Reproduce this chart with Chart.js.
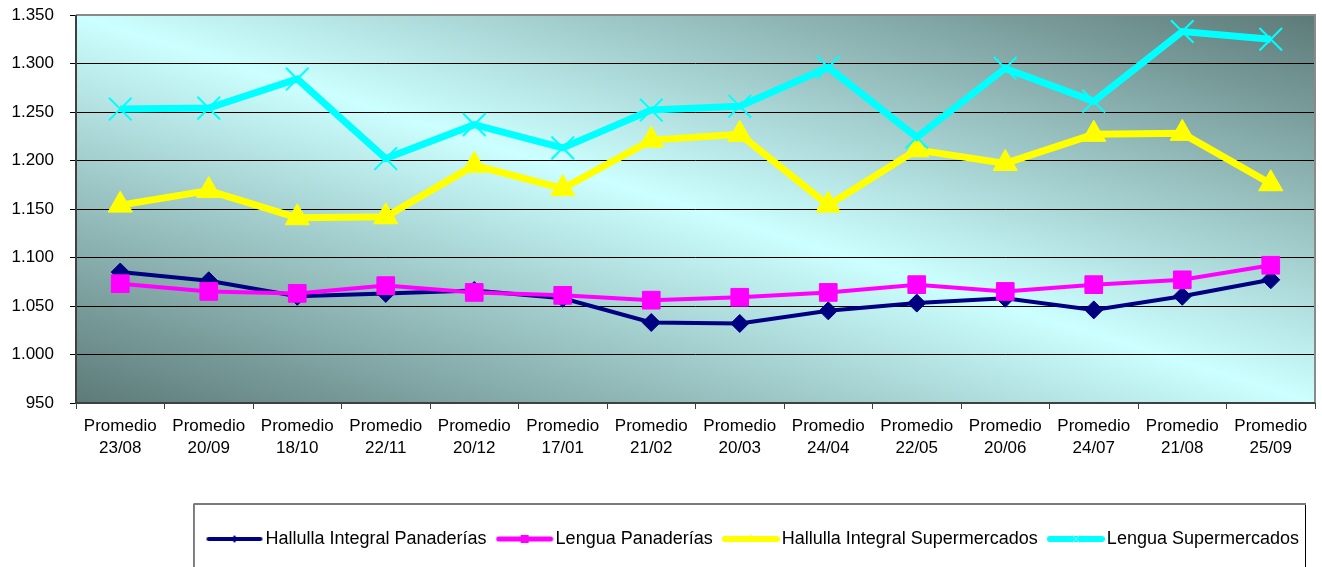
<!DOCTYPE html>
<html>
<head>
<meta charset="utf-8">
<script src="https://cdn.jsdelivr.net/npm/chart.js@4/dist/chart.umd.min.js"></script>
<style>
  html, body { margin: 0; padding: 0; background: #fff; }
  #wrap { width: 1322px; height: 567px; }
</style>
</head>
<body>
<div id="wrap"><canvas id="chartCanvas"></canvas></div>
<script>
        const categories = [
            ["Promedio", "23/08"], ["Promedio", "20/09"], ["Promedio", "18/10"], ["Promedio", "22/11"],
            ["Promedio", "20/12"], ["Promedio", "17/01"], ["Promedio", "21/02"], ["Promedio", "20/03"],
            ["Promedio", "24/04"], ["Promedio", "22/05"], ["Promedio", "20/06"], ["Promedio", "24/07"],
            ["Promedio", "21/08"], ["Promedio", "25/09"]
        ];

        const hallullaPanaderias = [1085, 1076, 1060, 1063, 1066, 1058, 1033, 1032, 1045, 1053, 1058, 1046, 1060, 1077];
        const lenguaPanaderias = [1073, 1065, 1063, 1071, 1064, 1061, 1056, 1059, 1064, 1072, 1065, 1072, 1077, 1092];
        const hallullaSupermercados = [1154, 1169, 1141, 1142, 1195, 1171, 1221, 1227, 1154, 1211, 1197, 1227, 1228, 1176];
        const lenguaSupermercados = [1253, 1254, 1284, 1202, 1237, 1213, 1252, 1256, 1296, 1224, 1295, 1261, 1333, 1325];

        const seriesNames = [
            "Hallulla Integral Panaderías", "Lengua Panaderías",
            "Hallulla Integral Supermercados", "Lengua Supermercados"
        ];
        const yTicks = [950, 1000, 1050, 1100, 1150, 1200, 1250, 1300, 1350];

        const FONT = "'Liberation Sans', Arial, sans-serif";

        // little legend samples: line + small marker
        function legendIcon(color, lineW, shape) {
            const c = document.createElement("canvas");
            c.width = 58; c.height = 16;
            const g = c.getContext("2d");
            g.strokeStyle = color;
            g.lineWidth = lineW;
            g.lineCap = "round";
            g.beginPath(); g.moveTo(3, 8); g.lineTo(55, 8); g.stroke();
            g.fillStyle = color;
            g.beginPath();
            if (shape === "diamond") {
                g.moveTo(29, 4); g.lineTo(32, 8); g.lineTo(29, 12); g.lineTo(26, 8); g.closePath(); g.fill();
            } else if (shape === "square") {
                g.rect(25, 4, 8, 8); g.fill();
            } else if (shape === "triangle") {
                g.moveTo(29, 3); g.lineTo(33, 11); g.lineTo(25, 11); g.closePath(); g.fill();
            } else {
                g.strokeStyle = "#7fffff"; g.lineWidth = 1;
                g.moveTo(25, 4); g.lineTo(33, 12); g.moveTo(33, 4); g.lineTo(25, 12); g.stroke();
            }
            return c;
        }
        const icons = [
            legendIcon("#000080", 4, "diamond"),
            legendIcon("#FF00FF", 5, "square"),
            legendIcon("#FFFF00", 6, "triangle"),
            legendIcon("#00FFFF", 6, "cross")
        ];

        const plotBackground = {
            id: "plotBackground",
            beforeDraw(chart) {
                const { ctx, chartArea: a } = chart;
                ctx.save();
                ctx.translate(a.left, a.top);
                ctx.scale(a.right - a.left, a.bottom - a.top);
                const grad = ctx.createLinearGradient(0, 1, 1, 0);
                grad.addColorStop(0, "#5c7a78");
                grad.addColorStop(0.5, "#ccffff");
                grad.addColorStop(1, "#5c7a78");
                ctx.fillStyle = grad;
                ctx.fillRect(0, 0, 1, 1);
                ctx.restore();
            },
            beforeDatasetsDraw(chart) {
                const { ctx, chartArea: a } = chart;
                ctx.save();
                ctx.strokeStyle = "#8a8a8a";
                ctx.lineWidth = 2;
                ctx.beginPath();
                ctx.moveTo(a.left, a.top); ctx.lineTo(a.right, a.top); ctx.lineTo(a.right, a.bottom);
                ctx.stroke();
                ctx.strokeStyle = "#404040";
                ctx.beginPath();
                ctx.moveTo(a.left, a.top); ctx.lineTo(a.left, a.bottom); ctx.lineTo(a.right, a.bottom);
                ctx.stroke();
                ctx.restore();
            }
        };

        const legendFrame = {
            id: "legendFrame",
            afterDraw(chart) {
                const hb = chart.legend && chart.legend.legendHitBoxes;
                if (!hb || !hb.length) return;
                const first = hb[0], last = hb[hb.length - 1];
                const left = first.left - 19;
                const right = last.left + last.width + 6;
                const cy = first.top + first.height / 2;
                const top = cy - 35;
                const ctx = chart.ctx;
                ctx.save();
                ctx.lineWidth = 1;
                ctx.strokeStyle = "#000";
                ctx.beginPath();
                ctx.moveTo(left + 0.5, 570); ctx.lineTo(left + 0.5, top);
                ctx.moveTo(right + 0.5, top); ctx.lineTo(right + 0.5, 570);
                ctx.stroke();
                ctx.strokeStyle = "#7a7a7a";
                ctx.lineWidth = 2;
                ctx.beginPath();
                ctx.moveTo(left, top); ctx.lineTo(right + 1, top);
                ctx.stroke();
                ctx.restore();
            }
        };

        const ctx = document.getElementById("chartCanvas").getContext("2d");

        new Chart(ctx, {
            type: "line",
            data: {
                labels: categories,
                datasets: [
                    {
                        label: seriesNames[0],
                        data: hallullaPanaderias,
                        borderColor: "#000080",
                        backgroundColor: "#000080",
                        borderWidth: 4,
                        pointStyle: "rectRot",
                        pointRadius: 9,
                        pointBorderWidth: 1,
                        order: 4
                    },
                    {
                        label: seriesNames[1],
                        data: lenguaPanaderias,
                        borderColor: "#FF00FF",
                        backgroundColor: "#FF00FF",
                        borderWidth: 4,
                        pointStyle: "rect",
                        pointRadius: 12.5,
                        pointBorderWidth: 1,
                        order: 3
                    },
                    {
                        label: seriesNames[2],
                        data: hallullaSupermercados,
                        borderColor: "#FFFF00",
                        backgroundColor: "#FFFF00",
                        borderWidth: 7,
                        pointStyle: "triangle",
                        pointRadius: 14,
                        pointBorderWidth: 1,
                        order: 2
                    },
                    {
                        label: seriesNames[3],
                        data: lenguaSupermercados,
                        borderColor: "#00FFFF",
                        backgroundColor: "#00FFFF",
                        borderWidth: 7,
                        pointStyle: "crossRot",
                        pointRadius: 16,
                        pointBorderWidth: 2,
                        order: 1
                    }
                ]
            },
            options: {
                responsive: true,
                maintainAspectRatio: false,
                animation: false,
                devicePixelRatio: 1,
                layout: { autoPadding: false, padding: { top: 15, right: 7, left: 0, bottom: 9 } },
                elements: { line: { tension: 0 } },
                scales: {
                    x: {
                        offset: true,
                        grid: {
                            offset: true,
                            drawOnChartArea: false,
                            drawTicks: true,
                            tickLength: 6,
                            color: "#404040",
                            lineWidth: 1
                        },
                        border: { display: false },
                        ticks: {
                            color: "#000",
                            font: { family: FONT, size: 17, lineHeight: 1.25 },
                            maxRotation: 0,
                            autoSkip: false,
                            padding: 7
                        },
                        afterFit(scale) {
                            scale.height = 111;
                            scale.paddingLeft = 0;
                            scale.paddingRight = 0;
                        }
                    },
                    y: {
                        min: 950,
                        max: 1350,
                        afterBuildTicks(scale) { scale.ticks = yTicks.map(v => ({ value: v })); },
                        grid: {
                            color: "#000",
                            lineWidth: 1,
                            drawTicks: true,
                            tickLength: 6
                        },
                        border: { display: false },
                        ticks: {
                            color: "#000",
                            padding: 16,
                            font: { family: FONT, size: 17 },
                            callback: v => v >= 1000 ? Math.floor(v / 1000) + "." + String(v % 1000).padStart(3, "0") : String(v)
                        },
                        afterFit(scale) {
                            scale.width = 76;
                            scale.paddingTop = 0;
                            scale.paddingBottom = 0;
                        }
                    }
                },
                plugins: {
                    tooltip: { enabled: false },
                    legend: {
                        position: "bottom",
                        fullSize: false,
                        align: "end",
                        labels: {
                            usePointStyle: true,
                            pointStyleWidth: 44,
                            boxHeight: 16,
                            padding: 16,
                            color: "#000",
                            font: { family: FONT, size: 18 },
                            sort: (a, b) => a.datasetIndex - b.datasetIndex,
                            generateLabels(chart) {
                                const items = Chart.defaults.plugins.legend.labels.generateLabels(chart);
                                items.forEach(it => { it.pointStyle = icons[it.datasetIndex]; });
                                return items;
                            }
                        }
                    }
                }
            },
            plugins: [plotBackground, legendFrame]
        });
</script>
</body>
</html>
